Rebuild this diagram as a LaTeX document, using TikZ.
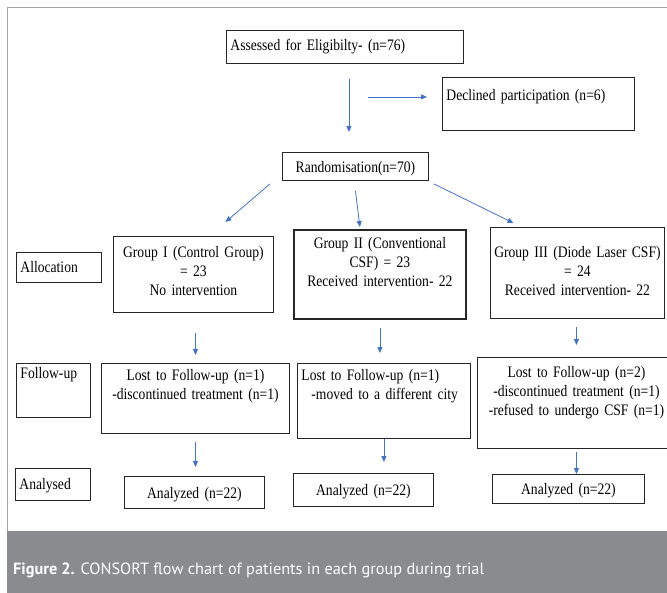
\documentclass[tikz,border=0pt]{standalone}
\usepackage{fontspec}
\setmainfont{Liberation Serif}[FakeStretch=0.85]
\newfontfamily\capfont{PT Sans}
\usetikzlibrary{arrows.meta, positioning}
\definecolor{arrblue}{RGB}{68,114,196}
\definecolor{capgray}{RGB}{138,139,143}
\definecolor{framegray}{RGB}{165,165,165}

\begin{document}
\begin{tikzpicture}[x=1pt, y=-1pt,
    box/.style={
        draw=black!85,
        line width=0.9pt,
        anchor=north west,
        inner xsep=4pt,
        inner ysep=0pt,
        align=center,
        font=\fontsize{16}{19}\selectfont
      },
    tb/.style 2 args={text height=#1, text depth=#2},
    arr/.style={-{Triangle[length=6pt, width=5pt]}, arrblue, line width=0.8pt}
  ]
  \useasboundingbox (0,0) rectangle (667,592);
  \draw[framegray, line width=1pt] (7,600) -- (7,7) -- (680,7);

  % enrolment
  \node[box, align=left, text width=229pt, tb={20pt}{13pt}] (assess) at (226,30) {Assessed for Eligibilty- (n=76)};
  \node[box, align=left, text width=184pt, tb={23pt}{30pt}] (decl) at (442,77) {Declined participation (n=6)};
  \node[box, text width=138pt, tb={20pt}{8pt}] (rand) at (282,152) {Randomisation(n=70)};

  % allocation
  \node[box, align=left, text width=77pt, tb={20pt}{10pt}] (alloc) at (16,252) {Allocation};
  \node[box, text width=152pt, tb={21pt}{55pt}] (g1) at (113,236) {Group I (Control Group)\\= 23\\No intervention};
  \node[box, line width=1.8pt, text width=164pt, tb={19pt}{70pt}] (g2) at (293,229) {Group II (Conventional\\CSF) = 23\\Received intervention- 22};
  \node[box, inner xsep=0pt, text width=174pt, tb={30pt}{61pt}] (g3) at (490,227) {Group III (Diode Laser CSF)\\= 24\\Received intervention- 22};

  % follow-up
  \node[box, align=left, text width=66pt, tb={15pt}{39pt}] (fup) at (16,363) {Follow-up};
  \node[box, text width=180pt, tb={17pt}{53pt}] (lost1) at (101,363) {Lost to Follow-up (n=1)\\-discontinued treatment (n=1)};
  \node[box, align=left, text width=165pt, tb={17pt}{58pt}] (lost2) at (297,363) {Lost to Follow-up (n=1)\\\hspace*{10pt}-moved to a different city};
  \node[box, text width=190pt, tb={20pt}{71pt}] (lost3) at (477,357) {Lost to Follow-up (n=2)\\-discontinued treatment (n=1)\\-refused to undergo CSF (n=1)};

  % analysis
  \node[box, align=left, text width=67pt, tb={21pt}{11pt}] (anl) at (15,468) {Analysed};
  \node[box, text width=132pt, tb={22pt}{10pt}] (an1) at (124,476) {Analyzed (n=22)};
  \node[box, text width=132pt, tb={22pt}{11pt}] (an2) at (293,473) {Analyzed (n=22)};
  \node[box, text width=144pt, tb={20pt}{9pt}] (an3) at (492,474) {Analyzed (n=22)};

  \coordinate (split) at ([xshift=4pt,yshift=-33pt]assess.south);
  \draw[arr, shorten <=15pt, shorten >=20pt] (split |- assess.south) -- (split |- rand.north);
  \draw[arr, shorten <=19pt, shorten >=15pt] (split) -- (split -| decl.west);

  \draw[arr] ([xshift=-12pt,yshift=-3pt]rand.south west) -- ([xshift=32pt,yshift=14pt]g1.north);
  \draw[arr] ([yshift=-10pt]rand.south) -- ([xshift=-20pt,yshift=2pt]g2.north);
  \draw[arr] ([xshift=5pt,yshift=-3pt]rand.south east) -- ([xshift=-64pt,yshift=4pt]g3.north);

  \draw[arr, shorten <=20pt, shorten >=8pt] (g1.south -| lost1.north) -- (lost1.north);
  \draw[arr, shorten <=8pt, shorten >=10pt] (g2.south) -- (g2.south |- lost2.north);
  \draw[arr, shorten <=8pt, shorten >=12pt] (g3.south -| lost3.north) -- (lost3.north);

  \draw[arr, shorten <=8pt, shorten >=9pt] (lost1.south) -- (lost1.south |- an1.north);
  \draw[arr, shorten >=11pt] (lost2.south) -- (lost2.south |- an2.north);
  \draw[arr, shorten <=3pt] (lost3.south) -- (lost3.south |- an3.north);

  % caption band
  \fill[capgray] (7,531) rectangle (680,600);
  \node[anchor=base west, inner sep=0pt, text=white, font=\capfont\fontsize{16.3}{20}\selectfont] (cap) at (13,574) {\textbf{Figure 2.} CONSORT flow chart of patients in each group during trial};
\end{tikzpicture}
\end{document}
